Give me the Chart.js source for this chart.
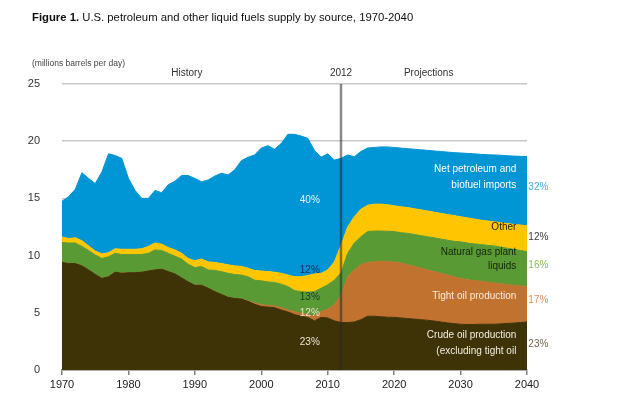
<!DOCTYPE html>
<html>
<head>
<meta charset="utf-8">
<script src="https://cdn.jsdelivr.net/npm/chart.js@4.4.1/dist/chart.umd.min.js"></script>
<style>
  html, body { margin: 0; padding: 0; background: #fff; }
  canvas { display: block; }
</style>
</head>
<body>
<canvas id="chart" width="617" height="395"></canvas>
<script>
// years on the x axis, 1970-2040
var years = [];
for (var yr = 1970; yr <= 2040; yr++) years.push(String(yr));
var tickYears = ["1970", "1980", "1990", "2000", "2010", "2020", "2030", "2040"];
var yTicks = [0, 5, 10, 15, 20, 25];

// million barrels per day
var crude = [
  9.4, 9.3, 9.3, 9.1, 8.75, 8.35, 8.0, 8.15, 8.55, 8.45,
  8.5, 8.5, 8.55, 8.65, 8.75, 8.8, 8.6, 8.4, 8.05, 7.7,
  7.4, 7.4, 7.15, 6.85, 6.6, 6.35, 6.25, 6.2, 6.0, 5.75,
  5.55, 5.5, 5.45, 5.25, 5.07, 4.85, 4.7, 4.6, 4.3, 4.6,
  4.55, 4.3, 4.15, 4.15, 4.2, 4.4, 4.7, 4.7, 4.65, 4.62,
  4.6, 4.55, 4.5, 4.45, 4.4, 4.35, 4.28, 4.2, 4.12, 4.05,
  4.0, 3.98, 3.98, 4.0, 4.0, 4.0, 4.03, 4.07, 4.1, 4.15,
  4.2
];
var tightOil = [
  0, 0, 0, 0, 0, 0, 0, 0, 0, 0,
  0, 0, 0, 0, 0, 0, 0, 0, 0, 0,
  0, 0, 0, 0, 0, 0, 0, 0, 0.05, 0.1,
  0.15, 0.15, 0.15, 0.2, 0.18, 0.25, 0.25, 0.25, 0.4, 0.5,
  0.75, 1.4, 2.35, 4.0, 4.55, 4.8, 4.7, 4.75, 4.85, 4.85,
  4.85, 4.8, 4.7, 4.62, 4.5, 4.4, 4.32, 4.25, 4.18, 4.1,
  4.0, 3.92, 3.84, 3.75, 3.67, 3.6, 3.5, 3.4, 3.3, 3.2,
  3.1
];
var ngpl = [
  1.75, 1.8, 1.8, 1.7, 1.7, 1.7, 1.75, 1.75, 1.65, 1.65,
  1.6, 1.6, 1.55, 1.55, 1.75, 1.65, 1.6, 1.55, 1.65, 1.55,
  1.55, 1.65, 1.6, 1.85, 2.0, 2.1, 2.1, 2.1, 2.1, 2.0,
  2.1, 2.05, 2.05, 2.05, 2.05, 1.85, 1.9, 1.95, 2.15, 2.05,
  2.15, 2.15, 2.0, 2.05, 2.35, 2.45, 2.7, 2.7, 2.65, 2.66,
  2.65, 2.65, 2.75, 2.78, 2.85, 2.9, 2.95, 3.0, 3.05, 3.1,
  3.2, 3.2, 3.21, 3.22, 3.23, 3.25, 3.22, 3.18, 3.15, 3.1,
  3.05
];
var other = [
  0.45, 0.4, 0.45, 0.5, 0.4, 0.35, 0.4, 0.35, 0.4, 0.45,
  0.45, 0.45, 0.5, 0.6, 0.6, 0.55, 0.5, 0.55, 0.5, 0.5,
  0.6, 0.65, 0.7, 0.7, 0.7, 0.75, 0.75, 0.75, 0.75, 0.85,
  0.85, 0.9, 0.9, 0.95, 1.0, 1.2, 1.3, 1.45, 1.55, 1.3,
  1.3, 1.6, 2.4, 2.3, 2.3, 2.4, 2.3, 2.35, 2.35, 2.32,
  2.25, 2.27, 2.25, 2.25, 2.25, 2.25, 2.25, 2.25, 2.25, 2.25,
  2.2, 2.2, 2.17, 2.13, 2.13, 2.1, 2.13, 2.15, 2.18, 2.22,
  2.25
];
var imports = [
  3.15, 3.65, 4.25, 5.95, 5.9, 5.9, 7.15, 8.65, 8.15, 7.95,
  6.2, 5.15, 4.4, 4.2, 4.6, 4.5, 5.5, 6.0, 6.8, 7.25,
  7.2, 6.75, 7.15, 7.55, 7.9, 7.85, 8.4, 9.25, 9.7, 10.1,
  10.75, 11.0, 10.75, 11.35, 12.3, 12.45, 12.3, 12.0, 10.8, 10.15,
  10.15, 8.9, 7.6, 6.3, 5.25, 5.05, 5.0, 4.95, 5.0, 5.05,
  5.1, 5.13, 5.15, 5.2, 5.25, 5.3, 5.35, 5.4, 5.45, 5.5,
  5.57, 5.63, 5.7, 5.75, 5.79, 5.85, 5.89, 5.93, 5.97, 6.01,
  6.05
];

var FONT = "'Liberation Sans', Arial, sans-serif";

function area(label, data, color, fill) {
  return {
    label: label,
    data: data,
    backgroundColor: color,
    borderColor: color,
    borderWidth: 1,
    pointRadius: 0,
    fill: fill,
    tension: 0
  };
}

// text drawn in the plot: [text, year, value, color, align]
var notes = [
  ["40%", 2007.3, 14.8, "#e8f3fb", "center"],
  ["12%", 2007.3, 8.68, "#17295a", "center"],
  ["13%", 2007.3, 6.4, "#1c3a2c", "center"],
  ["12%", 2007.3, 5.0, "#f4dece", "center"],
  ["23%", 2007.3, 2.4, "#ebe3d3", "center"],
  ["Net petroleum and", 2038.4, 17.55, "#ffffff", "right"],
  ["biofuel imports", 2038.4, 16.15, "#ffffff", "right"],
  ["Other", 2038.4, 12.47, "#2e2600", "right"],
  ["Natural gas plant", 2038.4, 10.29, "#14240c", "right"],
  ["liquids", 2038.4, 9.03, "#14240c", "right"],
  ["Tight oil production", 2038.4, 6.47, "#fae9da", "right"],
  ["Crude oil production", 2038.4, 3.06, "#f2ede2", "right"],
  ["(excluding tight oil", 2038.4, 1.66, "#f2ede2", "right"],
  ["32%", 2040.2, 15.97, "#42a9e0", "left"],
  ["12%", 2040.2, 11.6, "#3a3a3a", "left"],
  ["16%", 2040.2, 9.18, "#86bd55", "left"],
  ["17%", 2040.2, 6.06, "#d68e55", "left"],
  ["23%", 2040.2, 2.27, "#6e6550", "left"],
  ["History", 1988.8, 25.96, "#333333", "center"],
  ["2012", 2012, 25.96, "#333333", "center"],
  ["Projections", 2025.2, 25.96, "#333333", "center"]
];

var overlay = {
  id: "overlay",
  afterDatasetsDraw: function (chart) {
    var ctx = chart.ctx, a = chart.chartArea, x = chart.scales.x, y = chart.scales.y;
    var x0 = x.getPixelForValue(0), x1 = x.getPixelForValue(years.length - 1);
    function xAt(year) { return x0 + (year - 1970) / 70 * (x1 - x0); }

    ctx.save();
    // 2012 divider
    var xd = x.getPixelForValue(years.indexOf("2012"));
    ctx.strokeStyle = "rgba(40,40,40,0.55)";
    ctx.lineWidth = 2.5;
    ctx.beginPath();
    ctx.moveTo(xd, a.top);
    ctx.lineTo(xd, a.bottom);
    ctx.stroke();

    ctx.textBaseline = "middle";
    ctx.font = "10px " + FONT;
    notes.forEach(function (n) {
      ctx.fillStyle = n[3];
      ctx.textAlign = n[4];
      ctx.fillText(n[0], xAt(n[1]), y.getPixelForValue(n[2]));
    });

    // title and unit
    ctx.textAlign = "left";
    ctx.fillStyle = "#111111";
    ctx.font = "bold 11.3px " + FONT;
    ctx.fillText("Figure 1.", 32, 18);
    var w = ctx.measureText("Figure 1. ").width;
    ctx.font = "11.3px " + FONT;
    ctx.fillText("U.S. petroleum and other liquid fuels supply by source, 1970-2040", 32 + w, 18);
    ctx.fillStyle = "#444444";
    ctx.font = "8.5px " + FONT;
    ctx.fillText("(millions barrels per day)", 32, 64);
    ctx.restore();
  }
};

new Chart(document.getElementById("chart"), {
  type: "line",
  data: {
    labels: years,
    datasets: [
      area("Crude oil production (excluding tight oil)", crude, "#3e3207", "origin"),
      area("Tight oil production", tightOil, "#c2722f", "-1"),
      area("Natural gas plant liquids", ngpl, "#5a9a35", "-1"),
      area("Other", other, "#ffc600", "-1"),
      area("Net petroleum and biofuel imports", imports, "#0096d6", "-1")
    ]
  },
  options: {
    responsive: false,
    animation: false,
    devicePixelRatio: 1,
    layout: { padding: { top: 84, right: 90, left: 0, bottom: 0 } },
    plugins: {
      legend: { display: false },
      tooltip: { enabled: false },
      title: { display: false }
    },
    scales: {
      x: {
        stacked: true,
        offset: false,
        afterFit: function (s) { s.height = 25; },
        border: { display: true, color: "#808080", width: 1.5 },
        grid: { drawOnChartArea: false, drawTicks: true, tickLength: 5, color: "#808080", lineWidth: 1.5 },
        ticks: {
          autoSkip: false,
          maxRotation: 0,
          padding: 3,
          color: "#222222",
          font: { family: FONT, size: 11 },
          callback: function (v) {
            var lab = years[v];
            return tickYears.indexOf(lab) >= 0 ? lab : null;
          }
        }
      },
      y: {
        stacked: true,
        min: 0,
        max: 25,
        afterFit: function (s) {
          // the big label padding would otherwise also pad the plot top and bottom
          s.width = 62;
          s.paddingTop = 0;
          s.paddingBottom = 0;
        },
        afterBuildTicks: function (s) { s.ticks = yTicks.map(function (v) { return { value: v }; }); },
        border: { display: false },
        grid: { color: "#c8c8c8", lineWidth: 1.5, drawTicks: false },
        ticks: {
          padding: 22,
          color: "#333333",
          font: { family: FONT, size: 11 }
        }
      }
    }
  },
  plugins: [overlay]
});
</script>
</body>
</html>
